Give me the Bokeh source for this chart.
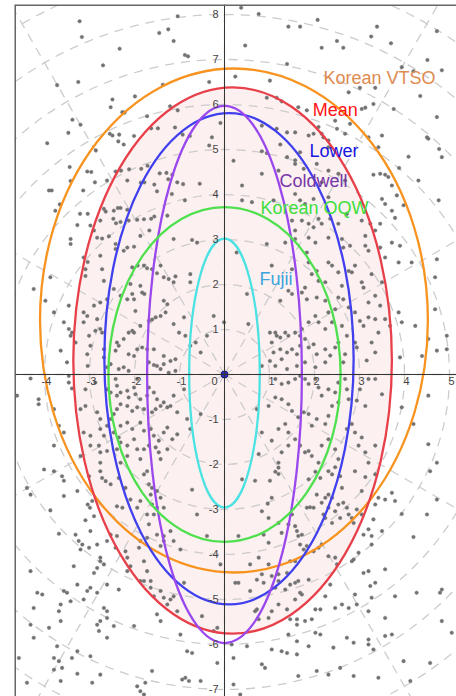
import numpy as np
from bokeh.plotting import figure
from bokeh.models import Span
from bokeh.core.properties import value
from bokeh.embed import file_html
from bokeh.resources import INLINE

# ---------------- data ----------------
X_MIN, X_MAX = -4.667, 5.156
Y_MIN, Y_MAX = -7.156, 8.222

x_ticks = [-4, -3, -2, -1, 1, 2, 3, 4, 5]
y_ticks = [-7, -6, -5, -4, -3, -2, -1, 1, 2, 3, 4, 5, 6, 7, 8]

grid_radii = [1, 2, 3, 4, 5, 6, 7, 8, 9, 10, 11]
grid_angles_deg = [0, 30, 60, 90, 120, 150, 180, 210, 240, 270, 300, 330]

names = ["Korean VTSO", "Mean", "Lower", "Coldwell", "Korean OQW", "Fujii"]
center_x = [0.21, 0.18, 0.10, 0.0, 0.0, 0.0]
center_y = [1.20, 0.31, 0.35, 0.0, 0.0, 0.03]
semi_a = [4.31, 3.54, 2.77, 1.72, 2.58, 0.785]
semi_b = [5.60, 6.07, 5.46, 5.97, 3.72, 2.99]
line_colors = ["#f7931e", "#e8404a", "#4040ee", "#9a48ee", "#4ee04e", "#4ae2e2"]
label_colors = ["#e08a50", "#ff1414", "#1818e0", "#7636a8", "#3ede3e", "#3aa4dc"]
label_x = [2.20, 1.96, 1.89, 1.22, 0.80, 0.78]
label_y = [6.58, 5.87, 4.96, 4.29, 3.71, 2.13]

dots_top_left = [
(-3.22,7.85),(-3.17,7.50),(-2.33,7.24),(-1.45,7.59),(-1.25,7.67),(-1.13,7.41),(-1.04,7.96),(-0.88,7.10),(-0.81,7.07),
(-2.70,6.87),(-3.72,6.43),(-3.25,6.50),(-1.37,6.44),(-0.34,6.50),(-1.99,6.18),(-2.49,6.11),(-2.53,5.94),(-2.27,5.83),
(-2.22,5.82),(-1.72,5.74),(-1.21,5.96),(-1.04,5.87),(-3.38,5.66),(-3.20,5.55),(-3.47,5.37),(-2.55,5.35),(-2.49,5.31),
(-2.34,5.33),(-2.36,5.18),(-2.24,5.11),(-2.01,5.30),(-1.63,5.47),(-1.48,5.47),(-1.10,5.49),(-0.93,5.33),(-0.77,5.30),
(-0.28,5.27),(-0.34,5.09),(-0.09,5.59),(-3.94,5.14),(-2.86,4.98),(-3.44,4.61),(-3.05,4.51),(-2.96,4.50),(-3.42,4.30),
(-3.90,4.09),(-3.84,4.09),(-3.14,4.09),(-2.88,4.27),(-2.61,4.31),(-2.42,4.51),(-2.30,4.53),(-2.12,4.56),(-1.85,4.57),
(-1.71,4.64),(-1.44,4.47),(-1.29,4.48),(-1.25,4.34),(-1.16,4.44),(-1.05,4.27),(-0.92,4.23),(-0.55,4.24),(-2.16,4.31),
(-1.86,4.26),(-1.78,4.27),(-1.56,4.22),(-1.50,4.07),(-1.17,4.01),(-0.88,3.87),(-3.66,3.78),(-3.76,3.64),(-3.21,3.57),
(-3.04,3.57),(-2.68,3.68),(-2.64,3.62),(-2.46,3.64),(-2.37,3.70),(-2.31,3.70),(-2.16,3.66),(-2.76,3.42),(-2.47,3.46),
(-2.41,3.36),(-2.31,3.39),(-2.13,3.42),(-1.94,3.44),(-1.79,3.45),(-1.67,3.20),(-1.63,3.46),(-1.56,3.51),(-1.27,3.53),
(-3.27,3.32),(-2.98,3.31),(-2.90,3.20),
]

dots_top_right = [
(0.37,8.15),(0.76,8.01),(1.42,7.73),(1.68,7.73),(2.07,7.88),(3.39,7.73),(4.72,7.63),(0.46,7.31),(1.39,6.90),
(2.16,7.26),(2.50,7.41),(2.64,7.26),(3.26,7.51),(3.70,7.36),(3.94,6.83),(4.20,6.74),(4.51,6.99),(4.83,6.76),
(1.01,6.53),(0.24,6.62),(2.76,6.27),(3.01,6.37),(3.35,6.37),(4.35,6.19),(0.94,6.15),(1.16,6.15),(1.27,6.07),
(1.64,5.94),(1.83,5.87),(3.05,5.90),(3.13,5.93),(3.31,6.01),(3.76,5.90),(4.72,5.72),(0.83,5.53),(1.16,5.46),
(1.39,5.38),(1.57,5.38),(2.09,5.50),(2.16,5.35),(2.46,5.64),(2.50,5.46),(2.68,5.35),(2.79,5.57),(3.20,5.27),
(3.50,5.31),(4.50,5.27),(4.53,5.24),(4.77,5.01),(4.83,4.83),(0.20,4.75),(0.83,4.96),(0.94,4.92),(1.24,5.11),
(1.39,4.83),(1.57,4.76),(1.68,4.94),(1.87,5.31),(1.98,5.35),(2.20,5.27),(2.31,5.20),(2.31,5.05),(3.42,5.05),
(4.09,4.84),(4.76,3.87),(3.31,4.44),(3.46,4.46),(3.57,4.44),(3.64,4.39),(3.88,4.59),(3.72,4.20),(3.83,3.98),
(3.98,3.76),(4.31,4.31),(1.57,4.68),(1.76,4.57),(2.05,4.68),(2.31,4.53),(2.16,4.27),(2.53,4.46),(2.68,4.31),
(0.39,3.87),(0.61,3.83),(1.09,3.87),(1.57,4.01),(1.68,3.87),(1.79,3.79),(1.98,3.90),(2.31,3.94),(3.50,3.90),
(3.57,3.79),(3.72,3.64),(3.79,3.48),(3.46,3.35),(3.35,3.20),(1.50,3.42),(1.57,3.20),(1.72,3.42),(1.87,3.35),
(1.98,3.27),(2.09,3.46),(2.16,3.35),(2.35,3.46),(2.53,3.35),(2.72,3.57),(3.05,3.42),(3.24,3.35),(0.83,4.46),
(0.39,4.20),(1.20,4.53),
]

dots_mid_left = [
(-3.42,3.01),(-3.42,2.90),(-2.83,3.04),(-2.72,3.02),(-2.57,3.07),(-1.87,3.08),(-2.01,2.84),(-2.42,2.90),(-2.42,2.79),
(-2.24,2.75),(-2.16,2.82),(-1.13,3.01),(-0.72,2.99),(-0.61,2.93),(-3.13,2.60),(-3.09,2.34),(-3.09,2.19),(-3.04,2.50),
(-3.87,2.16),(-4.24,1.90),(-2.76,2.64),(-2.72,2.34),(-2.68,2.08),(-2.05,2.38),(-1.93,2.42),(-1.79,2.42),(-1.72,2.36),
(-1.61,2.34),(-1.42,2.42),(-1.50,2.25),(-1.35,2.16),(-1.24,2.12),(-1.13,2.05),(-1.09,2.18),(-0.76,2.23),(-0.76,2.05),
(-2.09,2.01),(-2.05,1.79),(-1.87,1.97),(-1.83,1.82),(-1.78,1.79),(-2.01,1.67),(-1.98,1.41),(-2.16,1.67),(-2.31,1.75),
(-2.46,1.90),(-2.61,1.67),(-2.76,1.60),(-2.90,1.53),(-3.46,1.53),(-3.79,1.38),(-3.98,1.64),(-3.57,1.16),(-3.13,1.38),
(-3.13,1.16),(-3.05,1.30),(-2.83,1.23),(-2.76,1.01),(-3.01,0.86),(-2.87,0.97),(-2.72,0.93),(-3.46,1.01),(-3.39,0.93),
(-3.42,0.86),(-3.31,0.71),(-3.64,0.53),(-3.50,0.27),(-2.39,0.71),(-2.35,0.64),(-2.24,0.79),(-2.13,0.93),(-2.05,0.97),
(-2.01,0.93),(-1.87,1.08),(-1.68,1.19),(-1.61,1.22),(-1.53,1.27),(-1.42,1.30),(-1.31,1.38),(-1.27,1.56),(-1.35,1.64),
(-1.13,1.12),(-1.01,0.93),(-0.90,1.27),(-0.87,0.86),(-0.76,0.64),(-0.64,0.71),(-0.39,0.86),(-0.53,0.49),(-1.09,0.34),
(-1.20,0.30),(-1.35,0.41),(-1.57,0.56),(-1.72,0.56),(-1.83,0.60),(-1.94,0.56),(-2.01,0.41),(-2.13,0.45),(-2.42,0.53),
(-2.68,0.56),(-2.68,0.38),(-2.61,0.16),(-2.53,0.23),(-2.35,0.12),(-2.24,0.16),(-2.13,0.08),(-1.68,0.27),(-1.57,0.21),
(-1.50,0.19),(-1.42,0.12),(-1.35,0.23),(-1.24,0.04),(-1.09,0.08),(-3.05,0.45),(-3.04,0.19),(-2.98,0.64),(-0.01,1.16),
(-0.24,1.30),(-4.31,-0.09),(-4.61,-0.47),(-4.13,-0.55),(-4.13,-0.66),(-3.79,-0.77),(-3.68,-1.14),(-3.57,-1.29),
(-3.79,-1.58),(-3.46,-0.03),(-3.46,-0.18),(-3.39,-0.31),(-3.09,-0.33),(-2.87,-0.18),(-2.61,-0.33),(-2.53,-0.40),
(-2.42,-0.10),(-2.39,-0.25),(-2.39,-0.47),(-2.31,-0.40),(-2.16,-0.36),(-2.13,-0.51),(-2.01,-0.29),(-1.98,-0.44),
(-1.94,-0.10),(-1.87,-0.55),(-1.72,-0.47),(-1.68,-0.29),(-1.57,-0.40),(-1.50,-0.55),(-1.42,-0.70),(-1.35,-0.62),
(-1.27,-0.73),(-1.20,-0.70),(-1.13,-0.47),(-0.90,-0.33),(-1.05,-0.84),(-0.83,-0.99),(-0.76,-1.21),(-0.53,-0.88),
(-1.61,-0.84),(-1.53,-0.77),(-1.79,-0.77),(-1.94,-0.73),(-2.05,-0.81),(-2.16,-0.70),(-2.31,-0.66),(-2.39,-0.77),
(-2.46,-0.88),(-2.53,-0.99),(-2.76,-0.99),(-2.83,-0.84),(-3.09,-0.70),(-3.20,-0.77),(-2.76,-1.21),(-2.61,-1.14),
(-2.46,-1.29),(-2.35,-1.40),(-2.31,-1.14),(-2.16,-1.07),(-2.05,-1.21),(-1.87,-1.07),(-1.79,-1.25),(-1.64,-1.21),
(-1.57,-1.36),(-1.46,-1.47),(-1.35,-1.29),(-1.27,-1.18),(-1.16,-1.44),(-1.05,-1.33),(-2.68,-1.36),(-2.79,-1.58),
(-2.76,-1.73),(-2.61,-1.70),(-2.39,-1.66),(-2.31,-1.51),(-2.16,-1.58),(-2.01,-1.44),(-1.94,-1.66),(-1.79,-1.66),
(-1.68,-1.58),(-1.53,-1.62),(-1.46,-1.73),(-1.27,-1.66),(-1.42,-1.88),(-1.87,-1.88),(-2.16,-1.81),(-2.31,-1.96),
(-2.98,-1.58),(-2.98,-1.36),(-3.13,-1.29),(-3.20,-1.81),(-2.76,-1.96),
]

dots_mid_right = [
(0.27,2.71),(0.50,1.79),(0.53,1.12),(1.05,2.42),(1.24,1.64),(0.94,2.90),(1.35,2.93),(1.57,3.01),(1.87,3.04),
(2.02,2.93),(2.31,3.04),(2.61,3.01),(2.64,2.82),(2.79,2.86),(3.13,3.08),(3.13,2.86),(3.20,2.75),(3.46,2.82),
(3.72,2.93),(3.90,2.86),(3.57,2.60),(3.87,2.49),(4.16,2.49),(4.72,2.56),(4.68,2.16),(1.50,2.34),(1.83,2.71),
(1.87,2.49),(1.94,2.23),(2.05,2.30),(2.09,2.08),(2.24,2.05),(2.31,2.49),(2.39,2.42),(2.53,2.27),(2.61,1.97),
(2.76,2.30),(2.83,2.27),(2.90,2.42),(3.05,2.05),(3.09,1.93),(3.20,1.60),(3.27,2.23),(3.35,1.75),(3.50,2.05),
(3.46,1.53),(3.57,1.23),(3.68,1.08),(3.87,1.38),(3.94,1.16),(4.24,1.08),(4.53,0.79),(4.68,1.45),(4.94,0.86),
(4.94,0.56),(4.72,0.53),(4.39,0.41),(3.90,0.38),(1.42,1.86),(1.50,1.79),(1.72,1.82),(1.79,1.93),(1.83,1.67),
(2.05,1.71),(2.24,1.64),(2.31,1.38),(2.46,1.45),(2.53,1.71),(2.64,1.67),(2.76,1.49),(2.90,1.38),(3.01,1.19),
(3.09,1.08),(3.20,1.27),(3.35,1.23),(3.42,0.93),(3.27,0.71),(3.35,0.49),(3.16,0.31),(2.90,0.71),(2.94,0.60),
(2.72,0.86),(2.61,1.08),(2.39,1.16),(2.24,1.01),(2.09,1.16),(2.02,1.30),(1.87,1.16),(1.72,1.01),(1.68,0.86),
(1.57,0.93),(1.42,0.86),(1.35,0.93),(1.24,0.82),(1.13,0.93),(1.16,0.86),(1.05,0.71),(1.01,0.93),(1.09,0.49),
(1.24,0.56),(1.27,0.34),(1.39,0.49),(1.50,0.56),(1.61,0.45),(1.68,0.64),(1.79,0.79),(1.87,0.60),(1.98,0.67),
(2.05,0.45),(2.24,0.56),(2.35,0.42),(2.46,0.60),(2.53,0.71),(2.64,0.27),(2.68,0.45),(2.24,0.27),(2.02,0.16),
(1.79,0.27),(1.61,0.19),(1.39,0.12),(1.13,0.19),(1.01,0.30),(0.83,0.19),(3.20,-0.10),(3.35,-0.10),(3.01,-0.33),
(2.94,-0.58),(3.13,-0.70),(3.50,-0.44),(3.94,-0.73),(4.20,-1.10),(4.53,-0.47),(4.72,-1.96),(4.53,-1.55),
(1.13,-0.10),(1.27,-0.21),(1.42,-0.18),(1.57,-0.10),(1.68,-0.03),(1.79,-0.10),(1.87,-0.21),(2.02,-0.10),
(2.09,-0.29),(2.16,-0.47),(2.31,-0.33),(2.46,-0.40),(2.53,-0.18),(2.68,-0.10),(2.72,-0.33),(2.76,-0.55),
(2.53,-0.62),(2.39,-0.70),(2.31,-0.92),(2.24,-1.10),(2.05,-0.99),(1.94,-1.14),(1.87,-0.88),(1.76,-0.84),
(1.64,-0.95),(1.50,-0.81),(1.42,-0.66),(1.27,-0.55),(1.13,-0.51),(0.98,-0.70),(0.72,-0.77),(0.83,-1.29),
(1.05,-1.47),(1.20,-1.21),(1.35,-1.10),(1.42,-1.29),(1.57,-1.44),(1.68,-1.58),(1.79,-1.73),(1.87,-1.70),
(1.94,-1.81),(2.16,-1.58),(2.31,-1.44),(2.46,-1.66),(2.53,-1.88),(2.72,-1.21),(2.83,-1.10),(2.90,-1.29),
(2.98,-1.58),(3.05,-1.40),(3.13,-1.73),(3.20,-1.96),(3.35,-1.58),(1.42,-1.58),(1.27,-1.73),(0.76,-1.77),
(1.20,-1.96),(2.09,-1.96),
]

dots_bottom_left = [
(-4.01,-2.11),(-3.79,-2.15),(-3.61,-2.26),(-3.57,-2.36),(-4.39,-2.52),(-4.31,-2.67),(-3.87,-3.02),(-3.57,-2.70),
(-3.27,-2.59),(-3.01,-2.26),(-3.04,-2.89),(-2.99,-2.96),(-2.94,-2.81),(-2.90,-3.15),(-2.76,-2.15),(-2.72,-2.30),
(-2.64,-2.37),(-2.53,-2.44),(-2.35,-2.30),(-2.20,-2.52),(-2.39,-2.93),(-2.27,-2.96),(-2.09,-2.78),(-1.94,-2.96),
(-1.87,-2.81),(-1.79,-2.22),(-1.72,-2.15),(-1.68,-2.44),(-1.61,-2.52),(-1.64,-2.67),(-1.50,-2.59),(-1.42,-2.74),
(-1.61,-2.89),(-1.50,-2.96),(-1.35,-2.96),(-1.72,-3.11),(-1.68,-3.33),(-1.57,-3.11),(-1.50,-3.56),(-1.35,-3.59),
(-1.20,-3.48),(-1.13,-3.70),(-0.98,-3.89),(-1.35,-3.70),(-1.42,-3.81),(-1.72,-3.63),(-1.87,-3.70),(-1.90,-3.85),
(-1.79,-4.15),(-1.72,-4.37),(-1.87,-4.59),(-2.09,-4.26),(-2.16,-4.07),(-2.20,-3.93),(-2.39,-3.59),(-2.53,-3.56),
(-2.42,-3.85),(-2.61,-3.70),(-2.76,-4.07),(-2.76,-4.15),(-2.68,-4.22),(-2.83,-4.30),(-2.90,-4.41),(-2.98,-3.48),
(-3.09,-3.24),(-3.31,-3.56),(-3.24,-3.70),(-3.16,-3.78),(-3.20,-3.89),(-3.01,-3.85),(-2.83,-3.78),(-3.35,-4.26),
(-3.68,-3.54),(-4.31,-4.37),(-3.27,-4.67),(-4.16,-4.85),(-4.05,-4.89),(-3.57,-4.81),(-3.50,-4.85),(-3.42,-5.04),
(-3.13,-5.00),(-3.05,-4.81),(-2.98,-4.74),(-2.83,-4.85),(-2.61,-4.67),(-2.35,-4.78),(-2.16,-4.37),(-1.79,-4.59),
(-1.64,-4.59),(-1.64,-4.74),(-1.57,-4.93),(-1.42,-4.81),(-1.35,-4.96),(-1.20,-5.00),(-1.13,-4.93),(-1.27,-5.11),
(-0.90,-4.63),(-0.72,-2.56),(-0.61,-3.11),(-0.39,-3.59),(-0.09,-4.22),(-0.50,-5.37),(-0.24,-5.70),(-0.16,-5.63),
(-1.05,-5.26),(-1.50,-5.33),(-1.42,-5.48),(-0.98,-5.78),(-0.83,-6.15),(-0.72,-6.19),(-2.01,-5.59),(-2.46,-5.59),
(-2.61,-5.41),(-2.76,-5.48),(-2.83,-5.56),(-2.79,-5.70),(-2.61,-5.85),(-2.68,-5.19),(-2.61,-5.26),(-3.64,-5.11),
(-3.68,-5.26),(-3.64,-5.48),(-4.24,-5.19),(-4.31,-5.56),(-4.24,-5.85),(-3.90,-5.63),(-3.72,-6.04),(-3.39,-6.30),
(-3.27,-6.15),(-2.98,-6.26),(-3.79,-6.30),(-3.68,-6.37),(-3.61,-6.52),(-3.79,-6.56),(-3.27,-6.65),(-2.76,-6.67),
(-4.57,-6.30),(-4.39,-6.85),(-3.64,-6.81),(-2.94,-6.85),(-1.94,-6.93),(-1.87,-7.04),(-1.76,-6.85),(-1.61,-6.59),
(-0.87,-6.74),(-0.94,-6.78),(-0.79,-6.81),(-0.53,-6.81),(-0.16,-6.41),(-1.79,-7.11),
]

dots_bottom_right = [
(0.39,-2.33),(0.68,-2.36),(1.01,-2.36),(1.13,-2.16),(1.20,-2.21),(1.20,-2.07),(1.87,-2.33),(2.02,-2.16),(2.13,-2.30),
(2.31,-2.15),(2.39,-2.22),(2.46,-2.06),(2.57,-2.26),(2.61,-2.52),(2.90,-2.15),(3.13,-2.28),(3.05,-2.59),(3.35,-2.22),
(3.42,-2.74),(3.57,-2.78),(3.72,-2.63),(3.79,-2.81),(3.94,-3.10),(4.50,-3.11),(4.57,-2.15),(4.72,-2.78),(4.20,-3.61),
(1.05,-2.74),(0.96,-2.87),(0.83,-3.04),(0.98,-3.19),(1.20,-3.30),(1.27,-3.52),(1.42,-3.33),(1.50,-3.11),(1.57,-3.37),
(1.61,-3.48),(1.64,-3.59),(1.72,-3.56),(1.83,-2.96),(1.90,-2.95),(1.98,-2.96),(2.05,-2.67),(2.16,-2.85),(2.24,-2.74),
(2.31,-2.67),(2.39,-2.74),(2.31,-2.96),(2.20,-3.11),(2.24,-3.19),(2.39,-3.30),(2.46,-3.04),(2.53,-2.89),(2.57,-3.19),
(2.64,-2.85),(2.72,-2.96),(2.76,-3.11),(2.83,-3.19),(2.87,-3.30),(2.94,-3.00),(3.05,-3.11),(3.09,-3.56),(3.20,-3.44),
(3.27,-3.59),(3.27,-3.78),(3.31,-3.22),(3.35,-2.89),(3.50,-3.48),(2.98,-3.96),(2.87,-4.11),(2.83,-4.15),(2.50,-4.22),
(2.46,-4.07),(2.31,-4.04),(2.16,-3.78),(2.09,-3.85),(1.98,-3.93),(1.83,-3.81),(1.76,-3.89),(1.68,-3.78),(1.57,-4.15),
(1.46,-4.15),(1.39,-4.41),(1.20,-4.44),(1.05,-4.48),(0.98,-4.22),(0.76,-4.07),(0.57,-4.22),(0.31,-3.59),(0.87,-3.56),
(0.98,-3.74),(0.24,-4.63),(0.31,-4.63),(0.57,-4.81),(0.72,-4.56),(0.83,-4.44),(0.87,-4.63),(1.13,-4.74),(1.20,-4.59),
(1.35,-4.78),(1.46,-4.67),(1.57,-4.63),(1.64,-4.59),(1.68,-4.85),(1.72,-4.89),(1.87,-4.56),(1.57,-5.00),(1.39,-5.22),
(1.20,-5.11),(1.05,-5.26),(0.98,-5.41),(0.76,-5.44),(0.72,-5.22),(0.68,-5.26),(1.46,-5.44),(1.61,-5.44),(1.61,-5.56),
(1.79,-5.48),(1.94,-5.44),(2.02,-5.22),(2.13,-5.22),(2.24,-4.93),(2.35,-4.67),(2.46,-5.19),(2.61,-5.11),(2.76,-5.19),
(2.90,-4.89),(2.94,-5.11),(3.09,-4.41),(3.20,-4.37),(3.24,-4.70),(3.35,-4.63),(3.57,-4.33),(3.27,-4.96),(3.20,-5.26),
(3.57,-5.41),(3.72,-5.78),(3.57,-5.81),(3.79,-4.93),(4.27,-4.85),(4.83,-4.78),(4.79,-4.85),(5.05,-5.74),(4.83,-5.48),
(1.42,-5.78),(1.61,-5.93),(1.87,-6.04),(2.02,-5.74),(2.13,-5.78),(2.42,-6.07),(2.72,-5.85),(2.87,-5.96),(3.20,-5.89),
(3.20,-6.00),(3.31,-6.11),(1.05,-6.11),(1.27,-6.15),(1.39,-6.19),(1.61,-6.22),(0.20,-6.30),(0.16,-6.00),(0.50,-6.04),
(0.83,-6.44),(0.90,-6.52),(1.64,-6.70),(2.05,-6.59),(2.31,-6.67),(2.57,-6.52),(2.87,-6.70),(3.42,-6.74),(3.98,-6.37),
(4.57,-6.41),(4.13,-6.81),(0.20,-6.89),(0.35,-7.11),
]

# ---------------- figure ----------------
FONT = "Liberation Sans"

p = figure(width=456, height=696, x_range=(X_MIN, X_MAX), y_range=(Y_MIN, Y_MAX),
           output_backend="svg", toolbar_location=None,
           x_axis_location=None, y_axis_location=None,
           min_border_left=14, min_border_right=0, min_border_top=4, min_border_bottom=0)
p.outline_line_color = None
p.background_fill_color = "white"
p.border_fill_color = "white"
p.xgrid.visible = False
p.ygrid.visible = False

# shaded Mean ellipse
mi = names.index("Mean")
p.ellipse(x=center_x[mi], y=center_y[mi], width=2 * semi_a[mi], height=2 * semi_b[mi],
          fill_color="#fdf0f0", fill_alpha=1.0, line_color=None)

# polar grid
grid_kw = dict(line_color="#cccccc", line_dash="9 7", line_width=1.3)
p.ellipse(x=0, y=0, width=[2 * r for r in grid_radii], height=[2 * r for r in grid_radii],
          fill_color=None, **grid_kw)
p.ray(x=0, y=0, length=14, angle=np.deg2rad(grid_angles_deg), **grid_kw)

# scatter dots
all_dots = dots_top_left + dots_top_right + dots_mid_left + dots_mid_right + dots_bottom_left + dots_bottom_right
p.scatter(x=[d[0] for d in all_dots], y=[d[1] for d in all_dots], size=3.6,
          fill_color="#727272", line_color="#727272", line_width=0.4)

# ellipses
for i in range(len(names)):
    p.ellipse(x=center_x[i], y=center_y[i], width=2 * semi_a[i], height=2 * semi_b[i],
              fill_color=None, line_color=line_colors[i], line_width=2.3)

# axes through origin
p.add_layout(Span(location=0, dimension="width", line_color="#333333", line_width=1))
p.add_layout(Span(location=0, dimension="height", line_color="#333333", line_width=1))
# frame edges (left, top)
p.add_layout(Span(location=X_MIN, dimension="height", line_color="#666666", line_width=3))
p.add_layout(Span(location=Y_MAX, dimension="width", line_color="#666666", line_width=3))

# tick labels
tick_kw = dict(text_font=value(FONT), text_font_size="11px", text_color="#444444")
p.text(x=x_ticks, y=[0] * len(x_ticks), text=[str(t) for t in x_ticks],
       text_align="center", text_baseline="top", x_offset=2, y_offset=3, **tick_kw)
p.text(x=[0] * len(y_ticks), y=y_ticks, text=[str(t) for t in y_ticks],
       text_align="right", text_baseline="middle", x_offset=-6, **tick_kw)
p.text(x=[0], y=[0], text=["0"], text_align="right", text_baseline="top",
       x_offset=-7, y_offset=3, **tick_kw)

# origin point
p.scatter(x=[0], y=[0], size=7, fill_color="#2e2eb8", line_color="#161670", line_width=1)

# series labels
p.text(x=label_x, y=label_y, text=names, text_color=label_colors,
       text_font=value(FONT), text_font_size="18px",
       text_align="left", text_baseline="middle")

open("out.html", "w").write(file_html(p, INLINE))
